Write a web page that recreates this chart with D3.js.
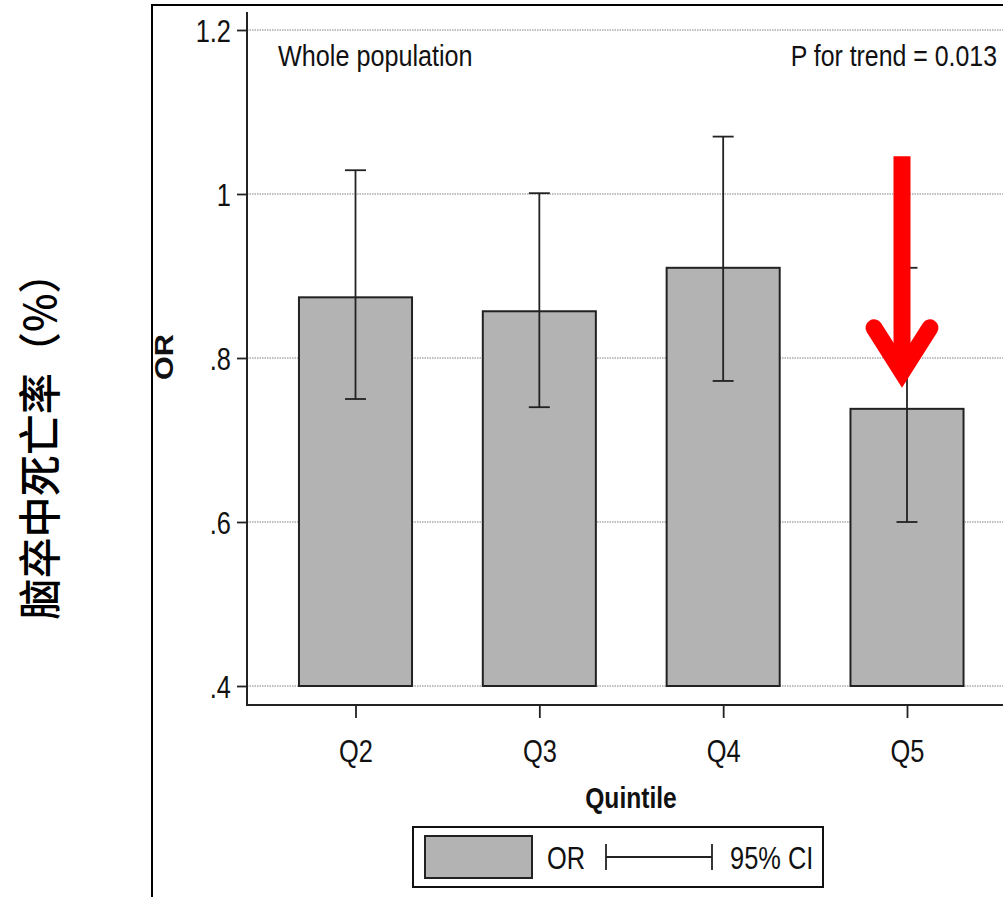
<!DOCTYPE html>
<html>
<head>
<meta charset="utf-8">
<script src="https://cdn.jsdelivr.net/npm/d3@7"></script>
<style>
  html, body { margin: 0; padding: 0; background: #fff; }
  svg { display: block; }
  text { font-family: "Liberation Sans", Arial, sans-serif; fill: #111; }
</style>
</head>
<body>
<svg id="chart" width="1003" height="897"></svg>
<script>
// ---- data ----
const categories = ["Q2", "Q3", "Q4", "Q5"];
const orValues   = [0.874, 0.857, 0.910, 0.738];
const ciLower    = [0.750, 0.740, 0.772, 0.600];
const ciUpper    = [1.029, 1.001, 1.070, 0.910];
const yTicks      = [0.4, 0.6, 0.8, 1.0, 1.2];
const yTickLabels = [".4", ".6", ".8", "1", "1.2"];
const panelTitle = "Whole population";
const trendText  = "P for trend = 0.013";
const xTitle = "Quintile";
const yTitle = "OR";
const outerTitle = "脑卒中死亡率（%）";
const legendLabels = ["OR", "95% CI"];
const arrowFrom = 1.046, arrowTo = 0.76; // annotation arrow (in OR units)

// ---- setup ----
const svg = d3.select("#chart");
const W = 1003, H = 897;
const axisX = 247, axisY = 705;
const SX = 0.82; // condensed font

const y = d3.scaleLinear().domain([0.4, 1.2]).range([686, 30]);
const x = d3.scalePoint().domain(categories).range([355.5, 907]);
const barW = x.step() * 0.615;

function txt(g, px, py, s, o = {}) {
  return g.append("text")
    .attr("transform", `translate(${px},${py}) scale(${o.sx ?? SX},1)`)
    .attr("text-anchor", o.anchor || "start")
    .style("font-size", (o.size || 30) + "px")
    .style("font-weight", o.weight || "normal")
    .text(s);
}

// frame
svg.append("rect").attr("x", 152).attr("y", 5).attr("width", 1000).attr("height", 1000)
  .attr("fill", "none").attr("stroke", "#000").attr("stroke-width", 2);

// gridlines
svg.append("g").selectAll("line").data(yTicks).join("line")
  .attr("x1", axisX).attr("x2", W)
  .attr("y1", d => y(d)).attr("y2", d => y(d))
  .attr("stroke", "#aaa").attr("stroke-width", 1.4).attr("stroke-dasharray", "1.5,1");

// bars
svg.append("g").selectAll("rect").data(categories).join("rect")
  .attr("x", d => x(d) - barW / 2)
  .attr("width", barW)
  .attr("y", (d, i) => y(orValues[i]))
  .attr("height", (d, i) => y(0.4) - y(orValues[i]))
  .attr("fill", "#b3b3b3").attr("stroke", "#222").attr("stroke-width", 2);

// error bars
const capW = 21;
const eb = svg.append("g").attr("stroke", "#222").attr("stroke-width", 1.8);
categories.forEach((c, i) => {
  eb.append("line").attr("x1", x(c)).attr("x2", x(c)).attr("y1", y(ciUpper[i])).attr("y2", y(ciLower[i]));
  eb.append("line").attr("x1", x(c) - capW / 2).attr("x2", x(c) + capW / 2).attr("y1", y(ciUpper[i])).attr("y2", y(ciUpper[i]));
  eb.append("line").attr("x1", x(c) - capW / 2).attr("x2", x(c) + capW / 2).attr("y1", y(ciLower[i])).attr("y2", y(ciLower[i]));
});

// y axis
const yAxis = d3.axisLeft(y).tickValues(yTicks)
  .tickFormat((d, i) => yTickLabels[i]).tickSize(10).tickPadding(0);
const gy = svg.append("g").attr("transform", `translate(${axisX},0)`).call(yAxis);
gy.select(".domain").remove();
gy.selectAll(".tick line").attr("stroke", "#222").attr("stroke-width", 1.8);
gy.selectAll(".tick text")
  .attr("x", null).attr("dy", null)
  .attr("transform", `translate(-16,11) scale(${SX},1)`)
  .attr("font-family", null).attr("font-size", null)
  .style("font-size", "31px").attr("fill", "#111");
svg.append("line").attr("x1", axisX).attr("x2", axisX).attr("y1", 12).attr("y2", axisY + 1)
  .attr("stroke", "#222").attr("stroke-width", 2);

// x axis
const xAxis = d3.axisBottom(x).tickSize(13).tickPadding(0);
const gx = svg.append("g").attr("transform", `translate(0,${axisY})`).call(xAxis);
gx.select(".domain").remove();
gx.selectAll(".tick line").attr("stroke", "#222").attr("stroke-width", 1.8);
gx.selectAll(".tick text")
  .attr("y", null).attr("dy", null)
  .attr("transform", `translate(0,57) scale(${SX},1)`)
  .attr("font-family", null).attr("font-size", null)
  .style("font-size", "31px").attr("fill", "#111");
svg.append("line").attr("x1", axisX - 1).attr("x2", W + 10).attr("y1", axisY).attr("y2", axisY)
  .attr("stroke", "#222").attr("stroke-width", 2);

// titles
txt(svg, 278, 66, panelTitle, { size: 30, sx: 0.84 });
txt(svg, 997, 66, trendText, { size: 30, sx: 0.83, anchor: "end" });
txt(svg, 631, 808, xTitle, { size: 30, weight: "bold", anchor: "middle" });
svg.append("text")
  .attr("transform", `translate(173,357) rotate(-90)`)
  .attr("text-anchor", "middle")
  .attr("textLength", 46).attr("lengthAdjust", "spacingAndGlyphs")
  .style("font-size", "25px").style("font-weight", "bold")
  .text(yTitle);
svg.append("text")
  .attr("transform", `translate(56,436) rotate(-90)`)
  .attr("text-anchor", "middle")
  .attr("textLength", 367).attr("lengthAdjust", "spacingAndGlyphs")
  .style("font-family", "'Noto Sans CJK SC', sans-serif")
  .style("font-size", "43px").style("font-weight", "500").style("fill", "#000")
  .text(outerTitle);

// legend
const lg = svg.append("g");
lg.append("rect").attr("x", 413).attr("y", 827).attr("width", 410).attr("height", 60)
  .attr("fill", "#fff").attr("stroke", "#111").attr("stroke-width", 2);
lg.append("rect").attr("x", 425).attr("y", 836).attr("width", 107).attr("height", 42)
  .attr("fill", "#b3b3b3").attr("stroke", "#222").attr("stroke-width", 2);
txt(lg, 547, 869, legendLabels[0], { size: 31 });
lg.append("line").attr("x1", 606).attr("x2", 712).attr("y1", 857).attr("y2", 857).attr("stroke", "#222").attr("stroke-width", 1.8);
lg.append("line").attr("x1", 606).attr("x2", 606).attr("y1", 844).attr("y2", 870).attr("stroke", "#222").attr("stroke-width", 1.8);
lg.append("line").attr("x1", 712).attr("x2", 712).attr("y1", 844).attr("y2", 870).attr("stroke", "#222").attr("stroke-width", 1.8);
txt(lg, 730, 869, legendLabels[1], { size: 31 });

// red arrow annotation
const ax = x("Q5") - 5;
const tipY = y(arrowTo);
const ar = svg.append("g").attr("stroke", "#ff0000").attr("fill", "none").attr("stroke-width", 17);
ar.append("line").attr("x1", ax).attr("x2", ax).attr("y1", y(arrowFrom)).attr("y2", tipY - 20);
ar.append("polyline")
  .attr("points", `${ax - 28},${tipY - 63} ${ax},${tipY - 19} ${ax + 28},${tipY - 63}`)
  .attr("stroke-linecap", "round").attr("stroke-linejoin", "miter").attr("stroke-miterlimit", 6);
</script>
</body>
</html>
